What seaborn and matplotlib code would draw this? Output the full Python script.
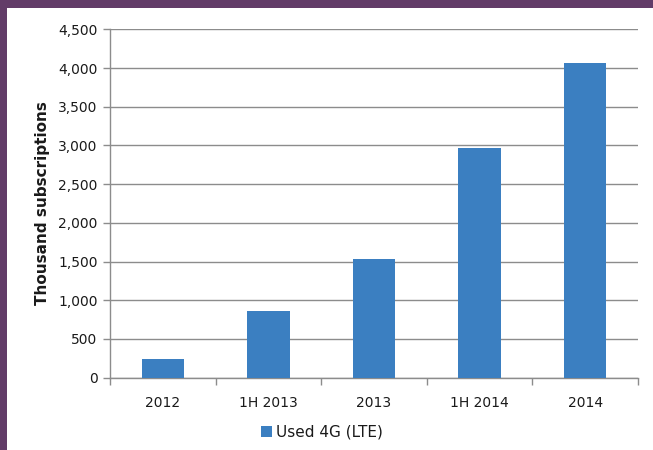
import matplotlib
matplotlib.use("Agg")
import matplotlib.pyplot as plt
import seaborn as sns
import pandas as pd
from matplotlib.patches import Patch, Rectangle
from matplotlib.ticker import FuncFormatter, MultipleLocator

# Data
categories = ["2012", "1H 2013", "2013", "1H 2014", "2014"]
values = [240, 860, 1530, 2970, 4060]
series_name = "Used 4G (LTE)"
y_label = "Thousand subscriptions"

bar_color = "#3b7fc1"
grid_color = "#8c8c8c"
purple = "#623c68"

sns.set_theme(style="white")
plt.rcParams["font.family"] = ["DejaVu Sans"]

W, H = 653, 450
fig = plt.figure(figsize=(W / 100, H / 100), dpi=100, facecolor="white")

# purple scan border (left and top)
fig.patches.append(Rectangle((0, 0), 7 / W, 1, transform=fig.transFigure,
                             facecolor=purple, edgecolor="none", zorder=-10))
fig.patches.append(Rectangle((0, 1 - 8 / H), 1, 8 / H, transform=fig.transFigure,
                             facecolor=purple, edgecolor="none", zorder=-10))

left, right = 110 / W, 638 / W
bottom, top = (H - 377.7) / H, (H - 29.4) / H
ax = fig.add_axes([left, bottom, right - left, top - bottom])

df = pd.DataFrame({"category": categories, "value": values})
sns.barplot(data=df, x="category", y="value", color=bar_color, width=0.4,
            saturation=1, linewidth=0, ax=ax, zorder=3)

ax.set_xlim(-0.5, len(categories) - 0.5)
ax.set_ylim(0, 4500)
ax.yaxis.set_major_locator(MultipleLocator(500))
ax.yaxis.set_major_formatter(FuncFormatter(lambda v, p: f"{int(v):,}"))
ax.grid(axis="y", color=grid_color, linewidth=1, zorder=0)
ax.set_axisbelow(True)

for s in ["top", "right"]:
    ax.spines[s].set_visible(False)
for s in ["left", "bottom"]:
    ax.spines[s].set_color(grid_color)
    ax.spines[s].set_linewidth(1)

ax.tick_params(axis="y", which="major", left=True, length=5, width=1,
               color=grid_color, labelsize=10, pad=4, labelcolor="#1a1a1a")
ax.tick_params(axis="x", which="major", bottom=False, labelsize=10, pad=7,
               labelcolor="#1a1a1a")
# boundary ticks between categories on x axis
ax.set_xticks([i - 0.5 for i in range(len(categories) + 1)], minor=True)
ax.tick_params(axis="x", which="minor", bottom=True, length=5, width=1,
               color=grid_color)

ax.set_xlabel("")
ax.set_ylabel(y_label, fontsize=11, fontweight="bold", color="#1a1a1a",
              labelpad=6)

handle = Patch(facecolor=bar_color, edgecolor="none")
fig.legend(handles=[handle], labels=[series_name], loc="center",
           bbox_to_anchor=(322 / W, 1 - 432 / H), frameon=False,
           fontsize=11, handlelength=0.7, handleheight=0.7,
           handletextpad=0.3, labelcolor="#1a1a1a")

fig.savefig("out.png", dpi=100, facecolor="white")
